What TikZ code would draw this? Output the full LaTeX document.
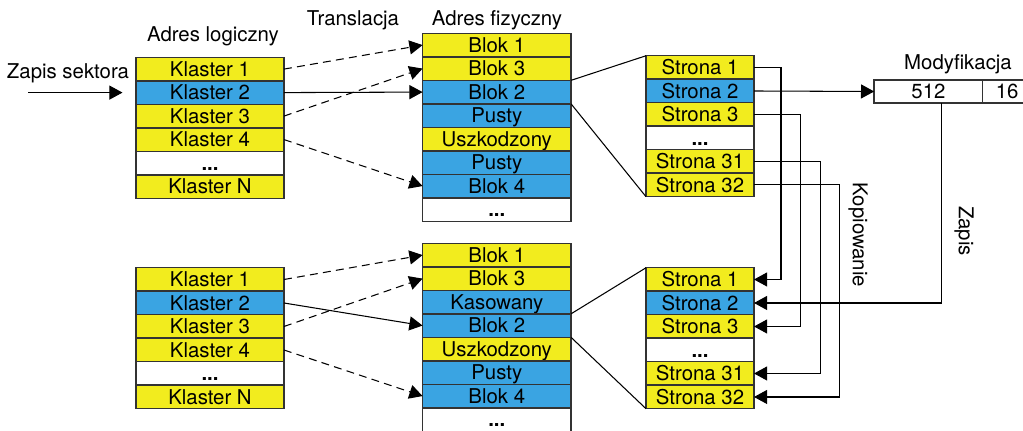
\documentclass[tikz,border=0pt]{standalone}
\usepackage{fontspec}
\setmainfont{TeX Gyre Heros}
\usetikzlibrary{arrows.meta,positioning}
\definecolor{kyellow}{RGB}{242,236,30}
\definecolor{kblue}{RGB}{58,164,226}
\begin{document}
\begin{tikzpicture}[x=0.02cm, y=-0.02cm, >={Triangle[length=7.5pt,width=8pt]},
every node/.style={font=\fontsize{11.6}{13}\selectfont},
cell/.style={draw=black!80, line width=0.85pt, minimum height=0.47cm, inner sep=0pt, outer sep=0pt, text height=8.2pt, text depth=0pt},
klaster/.style={cell, minimum width=2.96cm},
blok/.style={cell, minimum width=2.97cm},
strona/.style={cell, minimum width=2.16cm},
yel/.style={fill=kyellow}, blu/.style={fill=kblue},
lbl/.style={anchor=base},
arr/.style={->, line width=0.6pt, draw=black},
dsh/.style={dash pattern=on 4.5pt off 3pt},
link/.style={line width=0.6pt, draw=black}]
\useasboundingbox (0,0) rectangle (1023,431);
% labels
\node[lbl] (zslbl) at (68,79) {Zapis sektora};
\node[lbl] (loglbl) at (213,41.7) {Adres logiczny};
\node[lbl] (trlbl) at (353,26) {Translacja};
\node[lbl] (fizlbl) at (497,26) {Adres fizyczny};
\node[lbl] (modlbl) at (958,69.3) {Modyfikacja};
\node[rotate=-90] (koplbl) at (858,235) {Kopiowanie};
\node[rotate=-90] (zaplbl) at (964,231) {Zapis};
\coordinate (zsA) at (28,92.6);
\coordinate (zsB) at (122.5,92.6);
\draw[arr] (zsA) -- (zsB);
% top: logical addresses
\node[klaster,yel] (k1) at (210,69.1) {Klaster 1};
\node[klaster,blu,below=0pt of k1] (k2) {Klaster 2};
\node[klaster,yel,below=0pt of k2] (k3) {Klaster 3};
\node[klaster,yel,below=0pt of k3] (k4) {Klaster 4};
\node[klaster,fill=white,below=0pt of k4] (k5) {\textbf{...}};
\node[klaster,yel,below=0pt of k5] (k6) {Klaster N};
% top: physical blocks
\node[blok,yel] (b1) at (496.8,45.1) {Blok 1};
\node[blok,yel,below=0pt of b1] (b2) {Blok 3};
\node[blok,blu,below=0pt of b2] (b3) {Blok 2};
\node[blok,blu,below=0pt of b3] (b4) {Pusty};
\node[blok,yel,below=0pt of b4] (b5) {Uszkodzony};
\node[blok,blu,below=0pt of b5] (b6) {Pusty};
\node[blok,blu,below=0pt of b6] (b7) {Blok 4};
\node[blok,fill=white,below=0pt of b7] (b8) {\textbf{...}};
% top: pages
\node[strona,yel] (s1) at (700,67.5) {Strona 1};
\node[strona,blu,below=0pt of s1] (s2) {Strona 2};
\node[strona,yel,below=0pt of s2] (s3) {Strona 3};
\node[strona,fill=white,below=0pt of s3] (s4) {\textbf{...}};
\node[strona,yel,below=0pt of s4] (s5) {Strona 31};
\node[strona,yel,below=0pt of s5] (s6) {Strona 32};
% modification buffer
\node[cell,minimum width=2.17cm,minimum height=0.46cm] (m512) at (928.4,91.5) {512};
\node[cell,minimum width=0.98cm,minimum height=0.46cm,right=0pt of m512] (m16) {16};
% bottom: logical addresses
\node[klaster,yel] (nk1) at (210,279.5) {Klaster 1};
\node[klaster,blu,below=0pt of nk1] (nk2) {Klaster 2};
\node[klaster,yel,below=0pt of nk2] (nk3) {Klaster 3};
\node[klaster,yel,below=0pt of nk3] (nk4) {Klaster 4};
\node[klaster,fill=white,below=0pt of nk4] (nk5) {\textbf{...}};
\node[klaster,yel,below=0pt of nk5] (nk6) {Klaster N};
% bottom: physical blocks
\node[blok,yel] (nb1) at (496.8,255.1) {Blok 1};
\node[blok,yel,below=0pt of nb1] (nb2) {Blok 3};
\node[blok,blu,below=0pt of nb2] (nb3) {Kasowany};
\node[blok,blu,below=0pt of nb3] (nb4) {Blok 2};
\node[blok,yel,below=0pt of nb4] (nb5) {Uszkodzony};
\node[blok,blu,below=0pt of nb5] (nb6) {Pusty};
\node[blok,blu,below=0pt of nb6] (nb7) {Blok 4};
\node[blok,fill=white,below=0pt of nb7] (nb8) {\textbf{...}};
% bottom: pages
\node[strona,yel] (ns1) at (700,279.5) {Strona 1};
\node[strona,blu,below=0pt of ns1] (ns2) {Strona 2};
\node[strona,yel,below=0pt of ns2] (ns3) {Strona 3};
\node[strona,fill=white,below=0pt of ns3] (ns4) {\textbf{...}};
\node[strona,yel,below=0pt of ns4] (ns5) {Strona 31};
\node[strona,yel,below=0pt of ns5] (ns6) {Strona 32};
% translation
\draw[arr,dsh] (k1.east) -- (b1.west);
\draw[arr] (k2.east) -- (b3.west);
\draw[arr,dsh] (k3.east) -- (b2.west);
\draw[arr,dsh] (k4.east) -- (b7.west);
\draw[arr,dsh] (nk1.east) -- (nb1.west);
\draw[arr] (nk2.east) -- (nb4.west);
\draw[arr,dsh] (nk3.east) -- (nb2.west);
\draw[arr,dsh] (nk4.east) -- (nb7.west);
% block to pages
\draw[link] (b2.south east) -- (s1.north west);
\draw[link] (b3.south east) -- (s6.south west);
\draw[link] (nb3.south east) -- (ns1.north west);
\draw[link] (nb4.south east) -- (ns6.south west);
% modification and copying
\draw[arr] (s2.east) -- (m512.west);
\draw[arr] ([xshift=0.27cm]m512.south) |- (ns2.east);
\draw[arr] (s1.east) -- ++(27,0) |- (ns1.east);
\draw[arr] (s3.east) -- ++(46.7,0) |- (ns3.east);
\draw[arr] (s5.east) -- ++(66.3,0) |- (ns5.east);
\draw[arr] (s6.east) -- ++(85.3,0) |- (ns6.east);
\end{tikzpicture}
\end{document}
